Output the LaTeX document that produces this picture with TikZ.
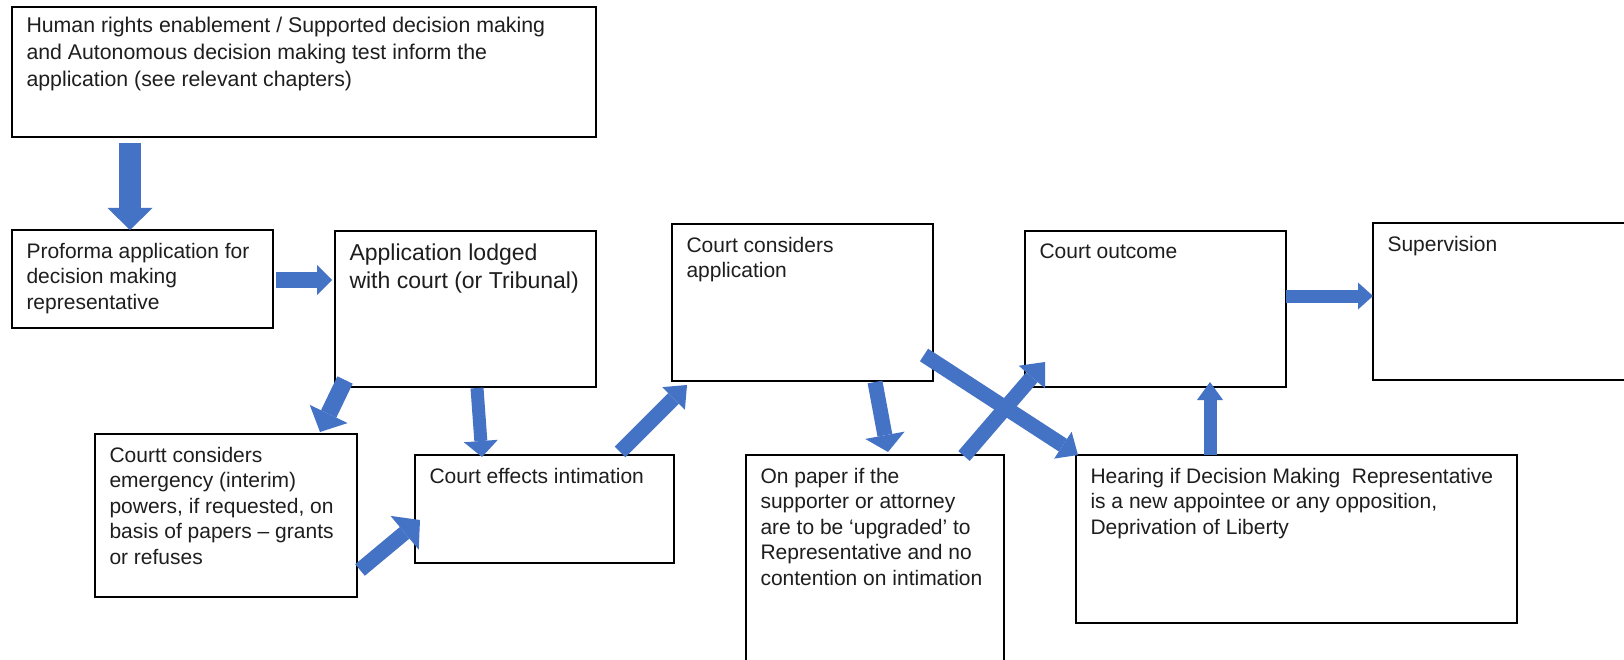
\documentclass[tikz,border=0pt]{standalone}
\usepackage{fontspec}
\setmainfont{Liberation Sans}
\usetikzlibrary{arrows.meta}
\definecolor{FlowBlue}{RGB}{68,114,196}
\definecolor{InkGray}{RGB}{30,30,30}
\newcommand{\boxtext}[3]{\parbox[t][#2pt][t]{#1pt}{\raggedright #3}}
\tikzset{
  panel/.style={draw=black,line width=2.6pt,fill=white,anchor=north west,outer sep=0pt,
    inner xsep=14.5pt,inner ysep=13pt,text=InkGray,font=\fontsize{21}{25.5}\selectfont},
  flow/.style n args={3}{draw=FlowBlue,line width=#1pt,
    -{Triangle[width=#2pt,length=#3pt,line width=0pt]}},
}

\begin{document}
\begin{tikzpicture}[x=1pt,y=-1pt]
\useasboundingbox (0,0) rectangle (1624,660);
\fill[white] (0,0) rectangle (1624,660);
\node[panel,inner ysep=10pt,font=\fontsize{21.3}{27}\selectfont] (top) at (12,7) {\boxtext{555}{110}{Human rights enablement / Supported decision making\\
  and Autonomous decision making test inform the\\application (see relevant chapters)}};
\node[panel] (pro) at (12,230) {\boxtext{232}{72}{Proforma application for\\decision making\\representative}};
\node[panel,font=\fontsize{23}{28}\selectfont] (app) at (335,231) {\boxtext{232}{130}{Application lodged\\with court (or Tribunal)}};
\node[panel] (crt) at (95,434) {\boxtext{233}{137}{Courtt considers\\emergency (interim)\\powers, if requested, on\\basis of papers – grants\\or refuses}};
\node[panel] (eff) at (415,455) {\boxtext{230}{82}{Court effects intimation}};
\node[panel] (cca) at (672,224) {\boxtext{232}{131}{Court considers\\application}};
\node[panel] (pap) at (746,455) {\boxtext{229}{186}{On paper if the\\supporter or attorney\\are to be ‘upgraded’ to\\Representative and no\\contention on intimation}};
\node[panel] (out) at (1025,231) {\boxtext{232}{130}{Court outcome}};
\node[panel] (sup) at (1373,223) {\boxtext{233}{131}{Supervision}};
\node[panel] (hear) at (1076,455) {\boxtext{412}{142}{Hearing if Decision Making\ \ Representative\\
  is a new appointee or any opposition,\\Deprivation of Liberty}};

\draw[flow={22}{45}{22}] ([shift={(118,6)}]top.south west) -- ([shift={(118,0)}]pro.north west);
\draw[flow={15}{30}{15}] ([shift={(3,50)}]pro.north east) -- ([shift={(-3,49)}]app.north west);
\draw[flow={17}{42}{20}] ([shift={(10,-7)}]app.south west) -- ([shift={(-37,-2)}]crt.north east);
\draw[flow={13}{34}{16}] ([shift={(142,1)}]app.south west) -- ([shift={(67,2)}]eff.north west);
\draw[flow={15}{44}{20}] ([shift={(3,-27)}]crt.south east) -- ([shift={(5,-43)}]eff.south west);
\draw[flow={15}{32}{19}] ([shift={(205,-3)}]eff.north west) -- ([shift={(15,4)}]cca.south west);
\draw[flow={15}{40}{17}] ([shift={(203,1)}]cca.south west) -- ([shift={(142,-3)}]pap.north west);
\draw[flow={15}{32}{18}] ([shift={(-9,-26)}]cca.south east) -- ([shift={(2,0)}]hear.north west);
\draw[flow={15}{35}{20}] ([shift={(-40,1)}]pap.north east) -- ([shift={(20,-25)}]out.south west);
\draw[flow={13}{27}{15}] ([shift={(0,65)}]out.north east) -- ([shift={(0,73)}]sup.north west);
\draw[flow={13}{26}{18}] ([shift={(134,0)}]hear.north west) -- ([shift={(185,-5)}]out.south west);
\end{tikzpicture}
\end{document}
